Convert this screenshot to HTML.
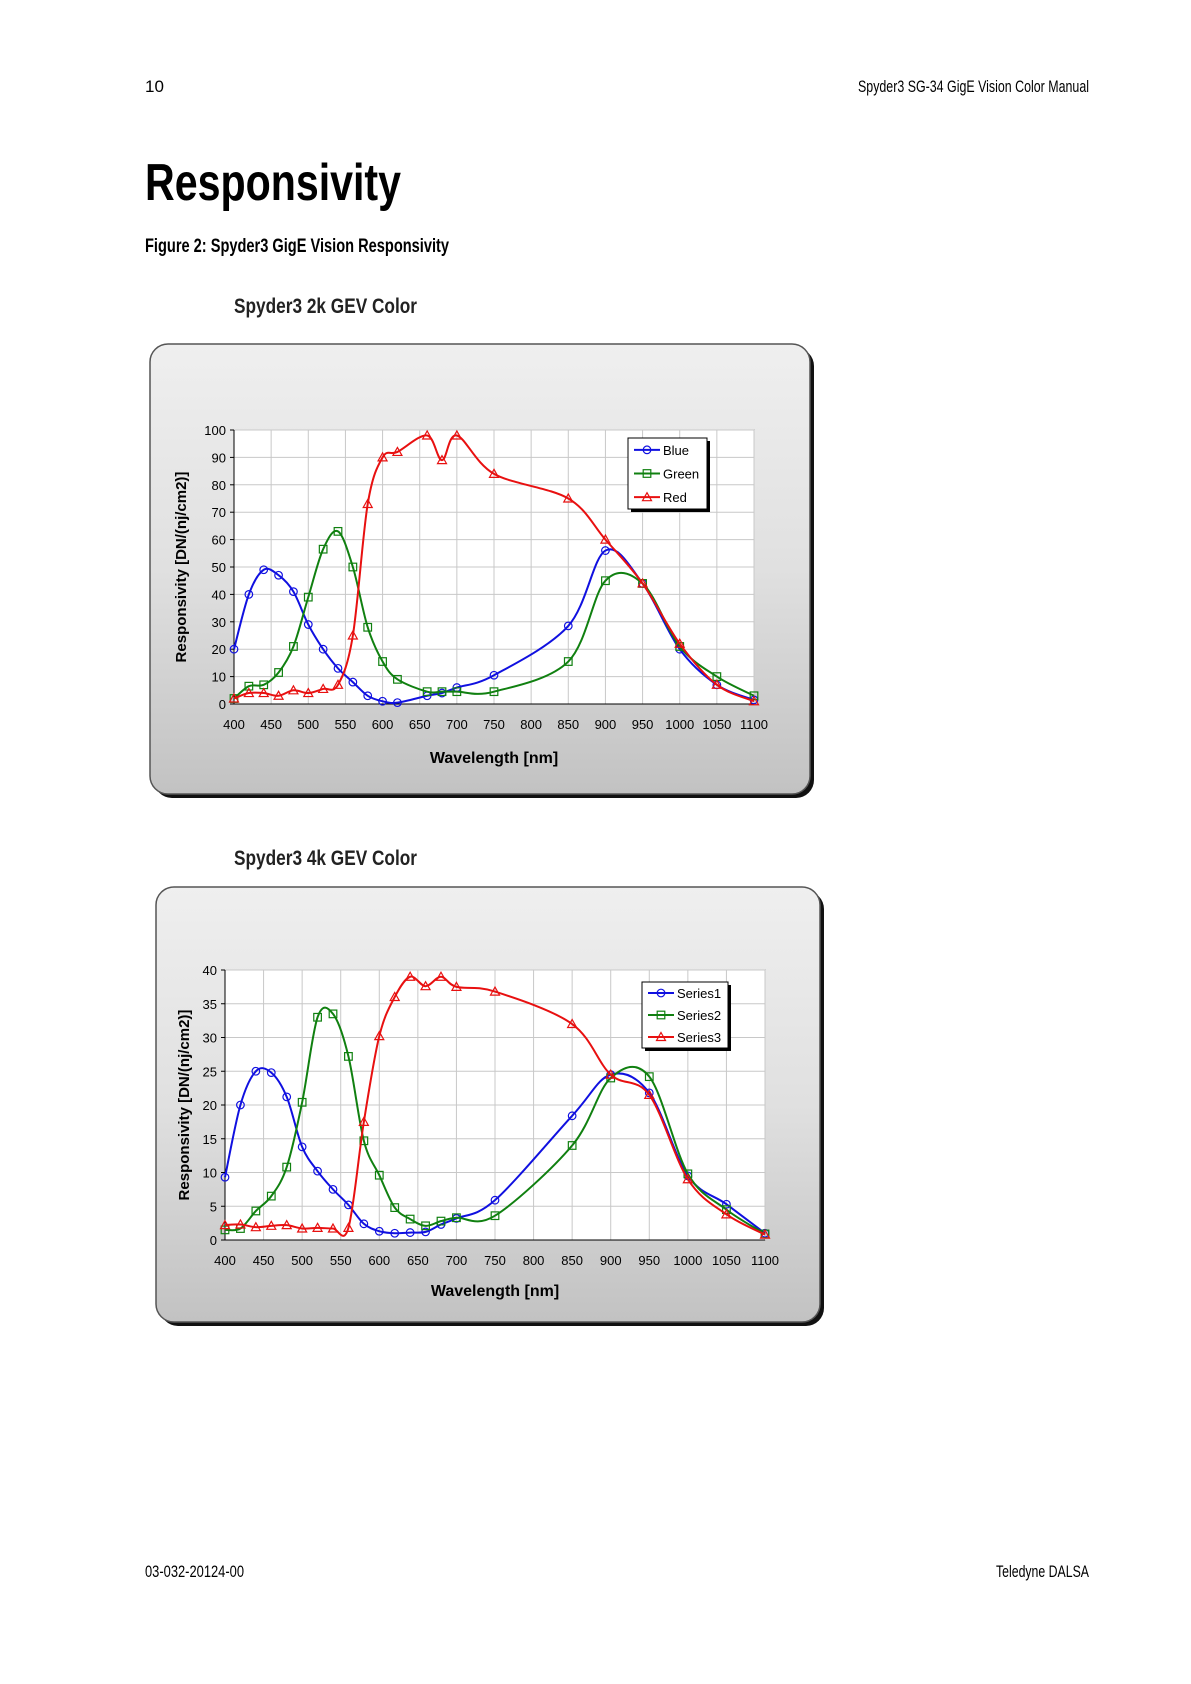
<!DOCTYPE html>
<html><head><meta charset="utf-8"><style>
html,body{margin:0;padding:0;background:#fff;}
svg{display:block;font-family:"Liberation Sans",sans-serif;}
.cond{font-family:"Liberation Sans Narrow","Liberation Sans",sans-serif;}
</style></head><body>
<svg id="page" width="1191" height="1684" viewBox="0 0 1191 1684" xmlns="http://www.w3.org/2000/svg">
<defs>
<linearGradient id="fg" x1="0" y1="0" x2="0" y2="1"><stop offset="0" stop-color="#efefef"/><stop offset="0.5" stop-color="#e0e0e0"/><stop offset="1" stop-color="#c2c2c2"/></linearGradient>
</defs>
<text class="cond" x="145" y="92" font-size="17">10</text>
<text class="cond" x="858" y="92" font-size="17" textLength="231" lengthAdjust="spacingAndGlyphs">Spyder3 SG-34 GigE Vision Color Manual</text>
<text class="cond" x="145" y="200" font-size="52" font-weight="bold" textLength="256" lengthAdjust="spacingAndGlyphs">Responsivity</text>
<text class="cond" x="145" y="252" font-size="19" font-weight="bold" textLength="304" lengthAdjust="spacingAndGlyphs">Figure 2: Spyder3 GigE Vision Responsivity</text>
<text class="cond" x="234" y="313" font-size="21" font-weight="bold" fill="#222" textLength="183" lengthAdjust="spacingAndGlyphs">Spyder3 2k GEV Color</text>
<text class="cond" x="234" y="865" font-size="21" font-weight="bold" fill="#222" textLength="183" lengthAdjust="spacingAndGlyphs">Spyder3 4k GEV Color</text>
<text class="cond" x="145" y="1577" font-size="17" textLength="99" lengthAdjust="spacingAndGlyphs">03-032-20124-00</text>
<text class="cond" x="996" y="1577" font-size="17" textLength="93" lengthAdjust="spacingAndGlyphs">Teledyne DALSA</text>
<g id="c1"></g><g id="c2"></g>
</svg>
<script>
const wl1=[400,420,440,460,480,500,520,540,560,580,600,620,660,680,700,750,850,900,950,1000,1050,1100];
const blue1=[20,40,49,47,41,29,20,13,8,3,1,0.5,3,4,6,10.5,28.5,56,44,20,7,1.5];
const green1=[2,6.5,7,11.5,21,39,56.5,63,50,28,15.5,9,4.5,4.5,4.5,4.5,15.5,45,44,21,10,3];
const red1=[2,4,4,3,5,4,5.5,7,25,73,90,92,98,89,98,84,75,60,44,22,7,1];
const wl2=[400,420,440,460,480,500,520,540,560,580,600,620,640,660,680,700,750,850,900,950,1000,1050,1100];
const s1=[9.3,20,25,24.8,21.2,13.8,10.2,7.5,5.2,2.4,1.3,1,1.1,1.2,2.3,3.2,5.9,18.4,24.5,21.8,9.5,5.3,1];
const s2=[1.5,1.7,4.3,6.5,10.8,20.4,33,33.5,27.2,14.7,9.6,4.8,3.1,2.1,2.8,3.3,3.6,14,24,24.2,9.8,4.5,0.9];
const s3=[2.2,2.3,1.9,2.1,2.2,1.7,1.8,1.7,1.8,17.5,30.2,36,39,37.6,39,37.5,36.8,32,24.5,21.5,9,3.8,0.8];
const xTicks=[400,450,500,550,600,650,700,750,800,850,900,950,1000,1050,1100];
const yTicks1=[0,10,20,30,40,50,60,70,80,90,100];
const yTicks2=[0,5,10,15,20,25,30,35,40];
const names1=["Blue","Green","Red"], names2=["Series1","Series2","Series3"];
const NS="http://www.w3.org/2000/svg";
function mk(p,t,a){const e=document.createElementNS(NS,t);for(const k in a)e.setAttribute(k,a[k]);p.appendChild(e);return e;}
const cols=["#1010e0","#108010","#e81010"];
function chart(g,cfg){
  const {fx,fy,fw,fh,px,py,pw,ph,ymax,yTicks,wl,series,names,lg,prefix,ylx,xly}=cfg;
  const X=v=>px+(v-400)/700*pw, Y=v=>py+ph-(v/ymax)*ph;
  let sh=mk(g,'rect',{x:fx+4,y:fy+4,width:fw,height:fh,rx:18,fill:'#111'});
  
  
  let fr=mk(g,'rect',{x:fx,y:fy,width:fw,height:fh,rx:18,fill:'url(#fg)',stroke:'#555','stroke-width':1.5});
  
  
  let pa=mk(g,'rect',{x:px,y:py,width:pw,height:ph,fill:'#fff',stroke:'#888'});
  
  
  for(const t of xTicks){const l=mk(g,'line',{x1:X(t),x2:X(t),y1:py,y2:py+ph,stroke:'#c8c8c8'});
    
    
    const tx=mk(g,'text',{x:X(t),y:py+ph+25,'font-size':13,'text-anchor':'middle'});tx.textContent=t;
    
    }
  for(const t of yTicks){const l=mk(g,'line',{x1:px,x2:px+pw,y1:Y(t),y2:Y(t),stroke:'#c8c8c8'});
    
    
    mk(g,'line',{x1:px-4,x2:px,y1:Y(t),y2:Y(t),stroke:'#000'});
    const tx=mk(g,'text',{x:px-8,y:Y(t)+5,'font-size':13,'text-anchor':'end'});tx.textContent=t;
    
    }
  mk(g,'line',{x1:px,x2:px,y1:py,y2:py+ph,stroke:'#000'});
  mk(g,'line',{x1:px,x2:px+pw,y1:py+ph,y2:py+ph,stroke:'#000'});
  series.forEach((s,i)=>{
    const pts=wl.map((w,j)=>[X(w),Y(s[j])]);
    let d='M'+pts[0].join(',');
    for(let j=0;j<pts.length-1;j++){const p0=pts[Math.max(0,j-1)],p1=pts[j],p2=pts[j+1],p3=pts[Math.min(pts.length-1,j+2)];
      d+=` C${p1[0]+(p2[0]-p0[0])/6},${p1[1]+(p2[1]-p0[1])/6} ${p2[0]-(p3[0]-p1[0])/6},${p2[1]-(p3[1]-p1[1])/6} ${p2[0]},${p2[1]}`;}
    const ln=mk(g,'path',{d,fill:'none',stroke:cols[i],'stroke-width':2});
    
    
    pts.forEach(p=>{marker(g,i,p[0],p[1],prefix+'-point-'+names[i].toLowerCase());});
  });
  const yl=mk(g,'text',{x:ylx,y:py+ph/2,'font-size':15,'font-weight':'bold','text-anchor':'middle',transform:`rotate(-90 ${ylx} ${py+ph/2})`});
  yl.textContent='Responsivity [DN/(nj/cm2)]';
  
  
  const xl=mk(g,'text',{x:px+pw/2,y:xly,'font-size':16,'font-weight':'bold','text-anchor':'middle'});
  xl.textContent='Wavelength [nm]';
  
  
  const [lx,ly,lw,lh]=lg;
  mk(g,'rect',{x:lx+3,y:ly+3,width:lw,height:lh,fill:'#000'});
  const lb=mk(g,'rect',{x:lx,y:ly,width:lw,height:lh,fill:'#fff',stroke:'#000'});
  
  
  names.forEach((n,i)=>{const yy=ly+lh*(i+0.5)/3;
    mk(g,'line',{x1:lx+6,x2:lx+32,y1:yy,y2:yy,stroke:cols[i],'stroke-width':2});
    marker(g,i,lx+19,yy,prefix+'-legend-marker');
    const t=mk(g,'text',{x:lx+35,y:yy+5,'font-size':13});t.textContent=n;
    
    });
}
function marker(g,i,x,y,name){let m;
  if(i===0)m=mk(g,'circle',{cx:x,cy:y,r:3.8,fill:'none',stroke:cols[0],'stroke-width':1.2});
  else if(i===1)m=mk(g,'rect',{x:x-3.8,y:y-3.8,width:7.6,height:7.6,fill:'none',stroke:cols[1],'stroke-width':1.2});
  else m=mk(g,'polygon',{points:`${x},${y-4.5} ${x+4.5},${y+3.5} ${x-4.5},${y+3.5}`,fill:'none',stroke:cols[2],'stroke-width':1.2});
  
  }
chart(document.getElementById('c1'),{fx:150,fy:344,fw:660,fh:450,px:234,py:430,pw:520,ph:274,ymax:100,yTicks:yTicks1,wl:wl1,series:[blue1,green1,red1],names:names1,lg:[628,438,79,71],prefix:'chart1',ylx:186,xly:763});
chart(document.getElementById('c2'),{fx:156,fy:887,fw:664,fh:435,px:225,py:970,pw:540,ph:270,ymax:40,yTicks:yTicks2,wl:wl2,series:[s1,s2,s3],names:names2,lg:[642,982,86,66],prefix:'chart2',ylx:189,xly:1296});
</script>
</body></html>
